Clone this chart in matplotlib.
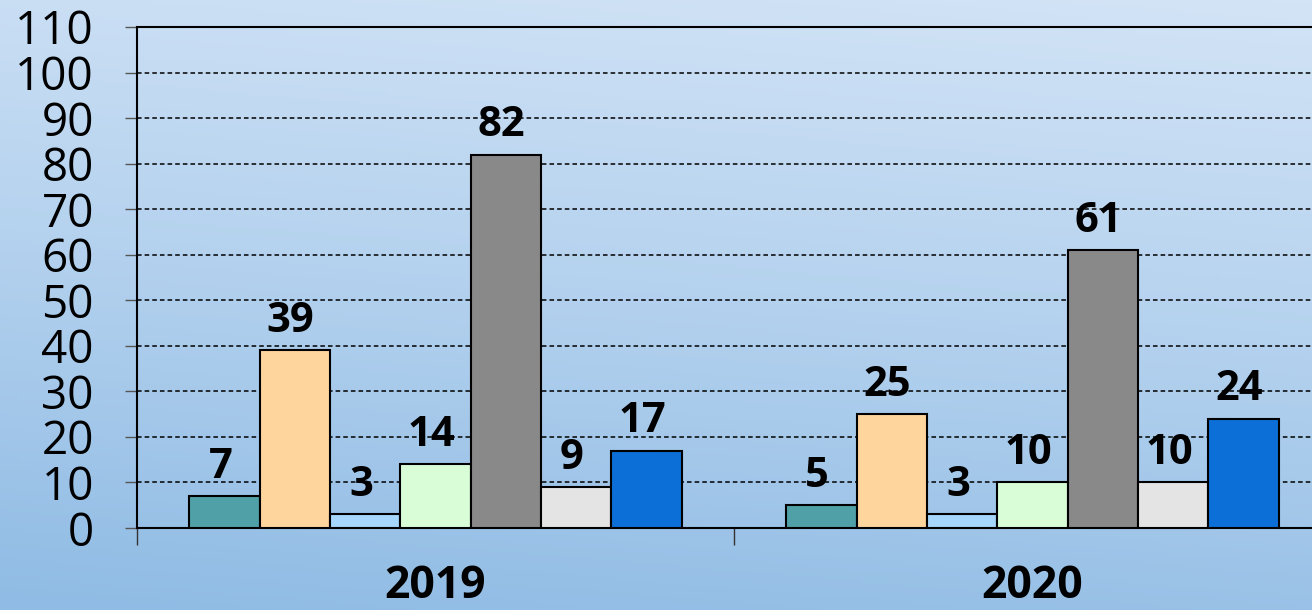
import numpy as np
import matplotlib
matplotlib.use("Agg")
import matplotlib.pyplot as plt
from matplotlib.colors import LinearSegmentedColormap

plt.rcParams['font.family'] = ['Open Sans', 'DejaVu Sans']

# data
lata = ['2019', '2020']
wart_2019 = [7, 39, 3, 14, 82, 9, 17]
wart_2020 = [5, 25, 3, 10, 61, 10, 24]
kolory = ['#50a0a8', '#ffd59e', '#a6d6fb', '#d9fed7', '#898989', '#e4e4e4', '#0c6fd8']

wartosci = np.array([wart_2019, wart_2020])
n = wartosci.shape[1]
szer = 0.1178

fig = plt.figure(figsize=(13.12, 6.10), dpi=100)

# gradient tla
tlo = fig.add_axes([0, 0, 1, 1], zorder=-10)
cmap = LinearSegmentedColormap.from_list('tlo', ['#d3e4f6', '#b3d1ee', '#8fbbe4'])
yy, xx = np.mgrid[0:1:200j, 0:1:200j]
grad = yy * 0.85 + (1 - xx) * 0.15
tlo.imshow(grad, cmap=cmap, aspect='auto', extent=[0, 1, 0, 1], origin='upper')
tlo.axis('off')

ax = fig.add_axes([137/1312, 82/610, 1194/1312, 501/610])
ax.patch.set_alpha(0)

x = np.arange(len(lata))
for i in range(n):
    poz = x + (i - (n - 1) / 2) * szer
    slupki = ax.bar(poz, wartosci[:, i], szer, color=kolory[i],
                    edgecolor='black', linewidth=1.5, zorder=3)
    for s, v in zip(slupki, wartosci[:, i]):
        ax.annotate(str(v), (s.get_x() + s.get_width() / 2, v),
                    xytext=(-3, 6), textcoords='offset points',
                    ha='center', va='bottom', fontsize=30, fontweight='bold',
                    zorder=4)

ax.set_ylim(0, 110)
ax.set_xlim(-0.5, 1.5)
ax.set_yticks(range(0, 111, 10))
ax.tick_params(axis='y', labelsize=33, length=9, width=1, color='#555555', pad=22)
ax.yaxis.grid(True, linestyle=(0, (3, 2)), color='black', linewidth=1.1, zorder=1)

ax.set_xticks(x)
ax.set_xticklabels(lata, fontsize=32, fontweight='bold')
ax.tick_params(axis='x', which='major', length=0, pad=26)
ax.set_xticks([-0.5, 0.5, 1.5], minor=True)
ax.tick_params(axis='x', which='minor', length=12, width=1, color='#333333')

for sp in ax.spines.values():
    sp.set_color('black')
    sp.set_linewidth(1.5)

fig.savefig('out.png', dpi=100)
